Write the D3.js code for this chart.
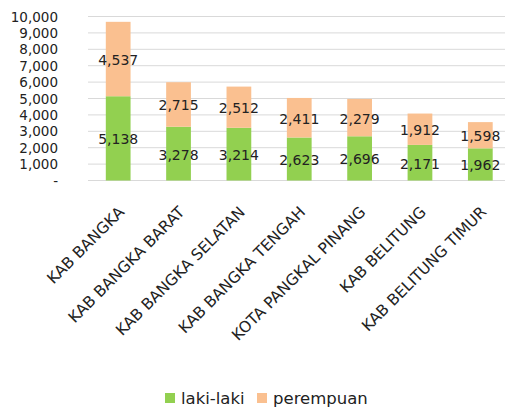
<!DOCTYPE html>
<html>
<head>
<meta charset="utf-8">
<script src="https://cdn.jsdelivr.net/npm/d3@7"></script>
<style>
  body { margin: 0; background: #fff; }
  text { font-family: "DejaVu Sans", sans-serif; fill: #222; }
</style>
</head>
<body>
<div id="chart"></div>
<script>
const categories = ["KAB BANGKA", "KAB BANGKA BARAT", "KAB BANGKA SELATAN", "KAB BANGKA TENGAH",
  "KOTA PANGKAL PINANG", "KAB BELITUNG", "KAB BELITUNG TIMUR"];
const lakiLaki = [5138, 3278, 3214, 2623, 2696, 2171, 1962];
const perempuan = [4537, 2715, 2512, 2411, 2279, 1912, 1598];
const yTicks = [0, 1000, 2000, 3000, 4000, 5000, 6000, 7000, 8000, 9000, 10000];
const seriesNames = ["laki-laki", "perempuan"];

const width = 505, height = 407;
const colors = ["#92D050", "#FAC090"];

const svg = d3.select("#chart").append("svg")
  .attr("width", width).attr("height", height);

const x = d3.scaleBand().domain(categories).range([88, 510.5]).paddingInner(0.59).paddingOuter(0.295);
const y = d3.scaleLinear().domain([0, 10000]).range([180.5, 16.5]);

// gridlines
svg.append("g").selectAll("line").data(yTicks).enter().append("line")
  .attr("x1", 88).attr("x2", 505)
  .attr("y1", d => y(d)).attr("y2", d => y(d))
  .attr("stroke", "#d9d9d9").attr("stroke-width", 1);

// y axis labels
const fmt = d3.format(",");
svg.append("g").selectAll("text").data(yTicks).enter().append("text")
  .attr("x", 58).attr("y", d => y(d) + 5)
  .attr("text-anchor", "end")
  .attr("font-size", "13.5px")
  .text(d => d === 0 ? "-" : fmt(d));

const table = categories.map((c, i) => ({ cat: c, laki: lakiLaki[i], perempuan: perempuan[i] }));
const stack = d3.stack().keys(["laki", "perempuan"])(table);

const layers = svg.selectAll("g.layer").data(stack).enter().append("g")
  .attr("fill", (d, i) => colors[i]);

layers.selectAll("rect").data(d => d).enter().append("rect")
  .attr("x", d => x(d.data.cat))
  .attr("width", x.bandwidth())
  .attr("y", d => y(d[1]))
  .attr("height", d => y(d[0]) - y(d[1]));

layers.selectAll("text").data(d => d).enter().append("text")
  .attr("x", d => x(d.data.cat) + x.bandwidth() / 2)
  .attr("y", d => (y(d[0]) + y(d[1])) / 2 + 6)
  .attr("text-anchor", "middle")
  .attr("font-size", "14px")
  .text(d => fmt(d[1] - d[0]));

// category labels
svg.append("g").selectAll("text").data(categories).enter().append("text")
  .attr("transform", d => `translate(${x(d) + x.bandwidth() / 2 + 7},${213}) rotate(-45)`)
  .attr("text-anchor", "end")
  .attr("font-size", "15.5px")
  .attr("font-family", "Lato, sans-serif")
  .text(d => d);

// legend
const legend = svg.append("g").attr("transform", "translate(0,398)");
const legX = [165, 257];
seriesNames.forEach((name, i) => {
  legend.append("rect").attr("x", legX[i]).attr("y", -5).attr("width", 10).attr("height", 10).attr("fill", colors[i]);
  legend.append("text").attr("x", legX[i] + 16).attr("y", 5.5)
    .attr("font-size", "16.5px").attr("font-family", "Lato, sans-serif").text(name);
});
</script>
</body>
</html>
